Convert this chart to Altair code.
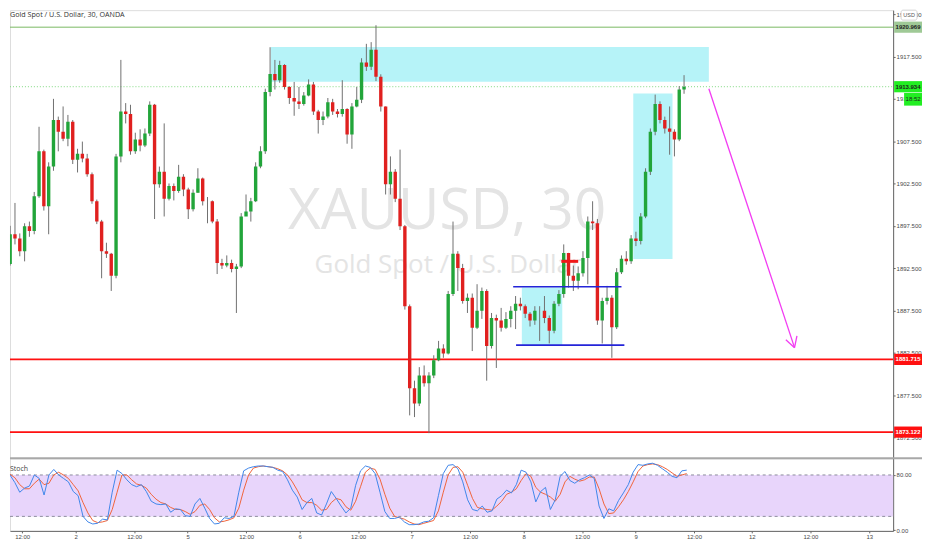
import json
import altair as alt
import pandas as pd

# ---------------- data ----------------
start_open = 1893.0
close = [1896.5, 1896.0, 1894.5, 1897.45, 1896.9, 1901.0, 1906.3, 1899.8, 1904.5, 1910.0,
         1908.6, 1907.8, 1909.8, 1905.3, 1906.0, 1905.45, 1903.6, 1900.4, 1898.0, 1894.5,
         1894.2, 1891.6, 1905.7, 1911.0, 1910.7, 1906.3, 1907.7, 1907.0, 1908.4, 1911.8,
         1902.4, 1903.9, 1900.7, 1902.2, 1901.6, 1903.3, 1901.8, 1899.45, 1901.4, 1903.1,
         1900.4, 1900.4, 1898.0, 1893.1, 1892.8, 1893.1, 1892.4, 1892.7, 1898.6, 1899.2,
         1900.4, 1904.5, 1906.3, 1913.3, 1915.45, 1914.7, 1916.5, 1913.9, 1912.6, 1912.2,
         1911.9, 1912.9, 1914.2, 1911.0, 1910.0, 1910.4, 1912.1, 1911.0, 1910.7, 1911.3,
         1908.3, 1911.6, 1912.4, 1916.8, 1916.3, 1918.3, 1915.1, 1911.6, 1902.4, 1903.9,
         1900.7, 1897.45, 1888.0, 1878.3, 1876.5, 1879.8, 1878.9, 1879.8, 1881.6, 1883.0,
         1882.4, 1889.45, 1894.2, 1892.5, 1888.6, 1889.0, 1885.45, 1887.45, 1889.8, 1883.3,
         1886.6, 1886.3, 1885.45, 1886.5, 1887.45, 1888.3, 1888.0, 1887.1, 1886.3, 1887.45,
         1887.45, 1886.6, 1885.1, 1888.3, 1889.45, 1894.3, 1891.6, 1891.0, 1891.9, 1893.7,
         1898.0, 1897.8, 1886.3, 1888.6, 1889.0, 1885.5, 1892.0, 1893.6, 1893.3, 1896.0,
         1895.7, 1898.6, 1903.9, 1908.6, 1911.9, 1910.0, 1909.0, 1908.6, 1907.7, 1913.6,
         1913.934]
high = [1897.5, 1900.2, 1896.6, 1897.8, 1898.0, 1901.5, 1909.2, 1906.5, 1905.0, 1912.5,
        1910.4, 1911.6, 1910.6, 1910.0, 1906.6, 1907.45, 1906.0, 1903.8, 1900.6, 1898.2,
        1895.5, 1894.3, 1906.0, 1917.1, 1912.0, 1911.8, 1908.5, 1908.9, 1909.0, 1912.2,
        1911.9, 1904.5, 1909.6, 1902.5, 1902.5, 1904.7, 1903.6, 1902.0, 1901.8, 1904.3,
        1903.2, 1900.9, 1900.5, 1898.3, 1893.6, 1894.0, 1893.5, 1893.0, 1899.0, 1901.2,
        1900.8, 1905.0, 1906.9, 1913.7, 1918.6, 1917.1, 1917.0, 1916.6, 1914.0, 1914.5,
        1913.9, 1913.3, 1914.8, 1914.5, 1911.2, 1911.0, 1912.6, 1912.5, 1911.3, 1914.7,
        1911.4, 1912.0, 1913.9, 1917.3, 1919.0, 1919.2, 1921.2, 1915.4, 1911.6, 1905.7,
        1904.2, 1906.5, 1897.6, 1888.2, 1879.2, 1880.8, 1881.0, 1880.2, 1882.2, 1883.9,
        1883.5, 1889.8, 1898.0, 1894.5, 1893.0, 1889.5, 1889.5, 1890.6, 1890.2, 1890.0,
        1887.2, 1887.0, 1887.8, 1887.3, 1888.0, 1889.2, 1889.0, 1888.2, 1887.3, 1888.0,
        1888.0, 1889.2, 1886.9, 1888.6, 1889.9, 1895.3, 1894.3, 1892.8, 1892.7, 1894.5,
        1898.6, 1900.4, 1898.3, 1889.0, 1890.4, 1889.3, 1892.5, 1894.0, 1894.5, 1896.4,
        1896.8, 1899.0, 1904.3, 1909.0, 1913.0, 1912.2, 1910.4, 1911.6, 1908.9, 1914.0,
        1915.3]
low = [1892.8, 1895.3, 1893.9, 1893.3, 1896.2, 1896.5, 1900.8, 1899.3, 1896.5, 1904.0,
       1906.3, 1907.5, 1906.9, 1904.8, 1903.8, 1905.0, 1903.3, 1900.1, 1897.7, 1891.3,
       1893.7, 1889.8, 1891.3, 1905.0, 1909.6, 1905.9, 1906.0, 1906.3, 1906.8, 1908.1,
       1898.3, 1902.0, 1898.6, 1900.5, 1900.5, 1901.4, 1901.0, 1898.3, 1899.2, 1901.4,
       1899.9, 1897.8, 1897.8, 1891.8, 1892.4, 1892.6, 1892.0, 1887.2, 1892.5, 1898.8,
       1898.0, 1900.3, 1904.3, 1906.0, 1912.8, 1913.6, 1914.4, 1913.6, 1911.9, 1910.5,
       1911.3, 1911.7, 1912.8, 1910.6, 1908.4, 1909.4, 1910.2, 1910.6, 1910.3, 1910.4,
       1907.2, 1906.6, 1911.5, 1912.0, 1915.8, 1915.9, 1914.6, 1911.0, 1901.2, 1901.2,
       1900.3, 1897.0, 1887.6, 1875.1, 1874.9, 1876.2, 1878.5, 1873.0, 1879.5, 1881.5,
       1881.9, 1882.3, 1889.2, 1889.8, 1888.3, 1887.2, 1882.7, 1885.3, 1886.5, 1879.2,
       1883.0, 1880.7, 1885.0, 1885.3, 1885.5, 1885.3, 1887.5, 1886.6, 1885.6, 1885.8,
       1883.9, 1886.0, 1883.6, 1884.8, 1888.0, 1889.0, 1890.2, 1889.8, 1890.0, 1891.5,
       1890.6, 1897.0, 1885.8, 1883.6, 1888.2, 1881.9, 1885.3, 1891.8, 1892.9, 1893.0,
       1895.1, 1895.3, 1898.4, 1903.5, 1908.2, 1909.6, 1908.4, 1905.9, 1905.7, 1907.5,
       1913.1]
stoch_k = [81, 80, 69, 55, 61, 64, 80, 75, 51, 80, 88, 80, 75, 70, 56, 50, 20, 12, 9, 10,
           16, 15, 55, 87, 82, 73, 66, 63, 66, 56, 42, 38, 37, 38, 26, 31, 30, 21, 20, 38,
           46, 32, 17, 9, 10, 18, 17, 20, 55, 86, 90, 92, 93, 93, 92, 91, 87, 85, 73, 58,
           48, 30, 40, 46, 25, 22, 38, 56, 46, 35, 25, 32, 65, 86, 93, 91, 82, 55, 27, 17,
           17, 19, 12, 8, 8, 9, 12, 13, 18, 50, 82, 94, 95, 89, 70, 44, 30, 28, 35, 26,
           28, 45, 50, 58, 54, 66, 87, 84, 70, 41, 56, 62, 30, 44, 78, 85, 72, 68, 73, 76,
           80, 75, 35, 17, 31, 28, 43, 54, 66, 84, 95, 94, 96, 97, 94, 89, 84, 78, 76, 86,
           87]
stoch_d = [80, 81, 76, 66, 60, 60, 68, 74, 66, 68, 80, 84, 80, 75, 66, 57, 40, 25, 14, 11,
           12, 14, 30, 55, 80, 80, 73, 67, 65, 61, 52, 45, 40, 38, 33, 30, 30, 27, 23, 27,
           36, 38, 30, 18, 12, 13, 15, 18, 32, 58, 80, 90, 92, 93, 92, 91, 89, 86, 80, 70,
           58, 44, 40, 40, 36, 29, 30, 40, 46, 44, 34, 29, 42, 63, 84, 90, 88, 74, 52, 32,
           20, 18, 16, 12, 9, 8, 10, 12, 14, 28, 55, 80, 91, 92, 84, 65, 46, 33, 31, 30,
           29, 35, 42, 52, 55, 60, 72, 82, 78, 62, 55, 52, 48, 42, 52, 70, 78, 74, 71, 73,
           77, 77, 60, 38, 24, 25, 34, 44, 56, 70, 85, 93, 95, 96, 95, 92, 88, 83, 78, 80,
           82]

# time axis: positions in 30-minute bars, day "2" starts at bar 0
first_bar = -29          # centre of first hourly candle
bar_step = 2             # one hourly candle = two 30-minute bars
tick_pos = [-22, 0, 24, 46, 70, 92, 116, 138, 162, 184, 208, 230, 254, 277.7, 301.8, 326]
tick_txt = ["12:00", "2", "12:00", "5", "12:00", "6", "12:00", "7", "12:00", "8",
            "12:00", "9", "12:00", "12", "12:00", "13"]
price_ticks = [1872.5, 1875.0, 1877.5, 1880.0, 1882.5, 1885.0, 1887.5, 1890.0, 1892.5,
               1895.0, 1897.5, 1900.0, 1902.5, 1905.0, 1907.5, 1910.0, 1912.5, 1915.0,
               1917.5, 1920.0, 1922.5]
stoch_ticks = [0, 40, 80]

# drawings
rect_x1 = [79.3, 183.6, 229.9]
rect_x2 = [261.3, 200.4, 246.2]
rect_lo = [1914.51, 1883.3, 1893.57]
rect_hi = [1918.63, 1890.2, 1913.13]
blue_x1 = [180.0, 181.2]
blue_x2 = [225.0, 226.2]
blue_p = [1890.3, 1883.4]
red_seg = {"x1": [200.0], "x2": [207.0], "p": [1893.3]}
red_levels = [1881.715, 1873.122]
green_level = 1920.969
last_price = 1913.934
arrow_x1 = [261.3, 296.9, 296.9]
arrow_p1 = [1913.7, 1883.1, 1883.1]
arrow_x2 = [296.9, 297.9, 293.3]
arrow_p2 = [1883.1, 1884.48, 1884.04]

# ---------------- layout ----------------
W = 887
H_MAIN = 450
H_STOCH = 73
X_DOMAIN = [-27.0, 335.8]
Y_DOMAIN = [1870.04, 1922.98]
S_DOMAIN = [-1.0, 104.3]
GREEN = "#22a53a"
RED = "#e0201f"
FONT = "Open Sans"
AXFONT = "Liberation Sans"
RW = 29   # width of the price-label column right of the plot

n = len(close)
opens = [start_open] + close[:-1]
df = pd.DataFrame({
    "t": [first_bar + bar_step * i for i in range(n)],
    "open": opens, "close": close, "high": high, "low": low,
})
df["dir"] = ["up" if c >= o else "down" for o, c in zip(opens, close)]
sdf = pd.DataFrame({"t": df["t"], "K": stoch_k, "D": stoch_d})

xs = alt.Scale(domain=X_DOMAIN, nice=False, zero=False)
ys = alt.Scale(domain=Y_DOMAIN, nice=False, zero=False)
ss = alt.Scale(domain=S_DOMAIN, nice=False, zero=False)

axis_style = dict(labelFont=AXFONT, labelFontSize=6, labelColor="#4a4a4a", tickColor="#666",
                  domainColor="#666", tickSize=2, labelPadding=1, grid=False, title=None)

main_axis = alt.Axis(orient="right", values=price_ticks, format=".3f", **axis_style)

X = alt.X("t:Q", scale=xs, axis=None)

# watermark
wm = pd.DataFrame({"a": ["XAUUSD, 30"], "b": ["Gold Spot / U.S. Dollar"]})
wm1 = alt.Chart(wm).mark_text(font=FONT, fontSize=57, color="#e4e4e4", align="center",
                              baseline="alphabetic").encode(
    x=alt.value(439), y=alt.value(220), text="a:N")
wm2 = alt.Chart(wm).mark_text(font=FONT, fontSize=26, color="#e4e4e4", align="center",
                              baseline="alphabetic").encode(
    x=alt.value(440), y=alt.value(264), text="b:N")

rdf = pd.DataFrame({"x1": rect_x1, "x2": rect_x2, "lo": rect_lo, "hi": rect_hi})
rects = alt.Chart(rdf).mark_rect(color="#b6f3f8", clip=True).encode(
    x=alt.X("x1:Q", scale=xs, axis=None), x2="x2:Q",
    y=alt.Y("lo:Q", scale=ys, axis=main_axis), y2="hi:Q")

lvl = pd.DataFrame({"p": red_levels})
red_lines = alt.Chart(lvl).mark_rule(color="#ff1010", strokeWidth=1.6).encode(
    y=alt.Y("p:Q", scale=ys), x=alt.value(0), x2=alt.value(W))
glvl = pd.DataFrame({"p": [green_level]})
green_line = alt.Chart(glvl).mark_rule(color="#79b862", strokeWidth=1).encode(
    y=alt.Y("p:Q", scale=ys), x=alt.value(0), x2=alt.value(W))
plvl = pd.DataFrame({"p": [last_price]})
price_line = alt.Chart(plvl).mark_rule(color="#7fd97f", strokeWidth=1, strokeDash=[1, 2]).encode(
    y=alt.Y("p:Q", scale=ys), x=alt.value(0), x2=alt.value(W))

wicks = alt.Chart(df).mark_rule(color="#707070", strokeWidth=1, clip=True).encode(
    x=X, y=alt.Y("low:Q", scale=ys), y2="high:Q")
bodies = alt.Chart(df).mark_bar(size=3.4, clip=True).encode(
    x=X, y=alt.Y("open:Q", scale=ys), y2="close:Q",
    color=alt.Color("dir:N", scale=alt.Scale(domain=["up", "down"], range=[GREEN, RED]),
                    legend=None))

bdf = pd.DataFrame({"x1": blue_x1, "x2": blue_x2, "p": blue_p})
blue = alt.Chart(bdf).mark_rule(color="#2424d8", strokeWidth=1.6).encode(
    x=alt.X("x1:Q", scale=xs), x2="x2:Q", y=alt.Y("p:Q", scale=ys))
rsd = pd.DataFrame(red_seg)
red_short = alt.Chart(rsd).mark_rule(color="#f01818", strokeWidth=3).encode(
    x=alt.X("x1:Q", scale=xs), x2="x2:Q", y=alt.Y("p:Q", scale=ys))
adf = pd.DataFrame({"x1": arrow_x1, "p1": arrow_p1, "x2": arrow_x2, "p2": arrow_p2})
arrow = alt.Chart(adf).mark_rule(color="#f23cf2", strokeWidth=1.3).encode(
    x=alt.X("x1:Q", scale=xs), x2="x2:Q", y=alt.Y("p1:Q", scale=ys), y2="p2:Q")

# price labels on the right scale
lab = pd.DataFrame({
    "p": [green_level, last_price, red_levels[0], red_levels[1]],
    "txt": ["1920.969", "1913.934", "1881.715", "1873.122"],
    "bg": ["#9fc996", "#22ee22", "#ff1010", "#ff1010"],
    "fg": ["#1d1d1d", "#1d1d1d", "#ffffff", "#ffffff"],
})
lab["lo"] = lab["p"] - 0.66
lab["hi"] = lab["p"] + 0.66
lab_box = alt.Chart(lab).mark_rect().encode(
    x=alt.value(W + 1), x2=alt.value(W + RW),
    y=alt.Y("lo:Q", scale=ys), y2="hi:Q", color=alt.Color("bg:N", scale=None))
lab_txt = alt.Chart(lab).mark_text(font=AXFONT, fontSize=6, fontWeight="bold",
                                   align="center", baseline="middle").encode(
    x=alt.value(W + 1 + (RW - 1) / 2), y=alt.Y("p:Q", scale=ys), text="txt:N",
    color=alt.Color("fg:N", scale=None))
cd = pd.DataFrame({"p": [1912.45], "txt": ["18:52"]})
cd["lo"] = cd["p"] - 0.75
cd["hi"] = cd["p"] + 0.75
cd_box = alt.Chart(cd).mark_rect(color="#22ee22").encode(
    x=alt.value(W + 11), x2=alt.value(W + RW), y=alt.Y("lo:Q", scale=ys), y2="hi:Q")
cd_txt = alt.Chart(cd).mark_text(font=AXFONT, fontSize=6, color="#1d1d1d", align="center",
                                 baseline="middle").encode(
    x=alt.value(W + 20), y=alt.Y("p:Q", scale=ys), text="txt:N")

usd = pd.DataFrame({"txt": ["USD"]})
usd_box = alt.Chart(usd).mark_rect(fill="#ffffff", stroke="#c9c9c9", strokeWidth=0.8,
                                   cornerRadius=2).encode(
    x=alt.value(W + 8), x2=alt.value(W + 24), y=alt.value(0), y2=alt.value(10))
usd_txt = alt.Chart(usd).mark_text(font=AXFONT, fontSize=5.5, color="#555", align="center",
                                   baseline="middle").encode(
    x=alt.value(W + 16), y=alt.value(4.8), text="txt:N")

title = pd.DataFrame({"txt": ["Gold Spot / U.S. Dollar, 30, OANDA"]})
title_txt = alt.Chart(title).mark_text(font=FONT, fontSize=7.2, color="#333", align="left",
                                       baseline="middle").encode(
    x=alt.value(0), y=alt.value(4.5), text="txt:N")

main = alt.layer(rects, wm1, wm2, green_line, price_line, red_lines, wicks, bodies, blue,
                 red_short, arrow, lab_box, lab_txt, cd_box, cd_txt, usd_box, usd_txt,
                 title_txt).properties(width=W, height=H_MAIN)

# ---------------- stochastic panel ----------------
label_expr = "{}[indexof({}, datum.value)]".format(json.dumps(tick_txt), json.dumps(tick_pos))
x_axis = alt.Axis(orient="bottom", values=tick_pos, labelExpr=label_expr, labelOverlap=False,
                  **axis_style)
s_axis = alt.Axis(orient="right", values=stoch_ticks, format=".2f", **axis_style)

band = pd.DataFrame({"lo": [20], "hi": [80]})
band_rect = alt.Chart(band).mark_rect(color="#e8d5fb").encode(
    x=alt.value(0), x2=alt.value(W),
    y=alt.Y("lo:Q", scale=ss, axis=s_axis), y2="hi:Q")
band_lines = pd.DataFrame({"v": [20, 80]})
dash = alt.Chart(band_lines).mark_rule(color="#8c8c9c", strokeDash=[3, 3], strokeWidth=1).encode(
    x=alt.value(0), x2=alt.value(W), y=alt.Y("v:Q", scale=ss))
k_line = alt.Chart(sdf).mark_line(color="#3f86ea", strokeWidth=1, clip=True).encode(
    x=alt.X("t:Q", scale=xs, axis=x_axis), y=alt.Y("K:Q", scale=ss))
d_line = alt.Chart(sdf).mark_line(color="#f0643a", strokeWidth=1, clip=True).encode(
    x=alt.X("t:Q", scale=xs), y=alt.Y("D:Q", scale=ss))
sep = alt.Chart(band).mark_rule(color="#a8a8a8", strokeWidth=2).encode(
    x=alt.value(0), x2=alt.value(W + RW), y=alt.value(0))
st_lab = pd.DataFrame({"txt": ["Stoch"]})
st_txt = alt.Chart(st_lab).mark_text(font=FONT, fontSize=7, color="#444", align="left",
                                     baseline="middle").encode(
    x=alt.value(0), y=alt.value(11), text="txt:N")

stoch = alt.layer(band_rect, dash, d_line, k_line, sep, st_txt).properties(width=W, height=H_STOCH)

chart = alt.vconcat(main, stoch, spacing=0, bounds="flush").properties(padding=0).configure_view(
    stroke=None).configure(background="white")

chart.save("out.html", embed_options={"renderer": "svg", "actions": False})
